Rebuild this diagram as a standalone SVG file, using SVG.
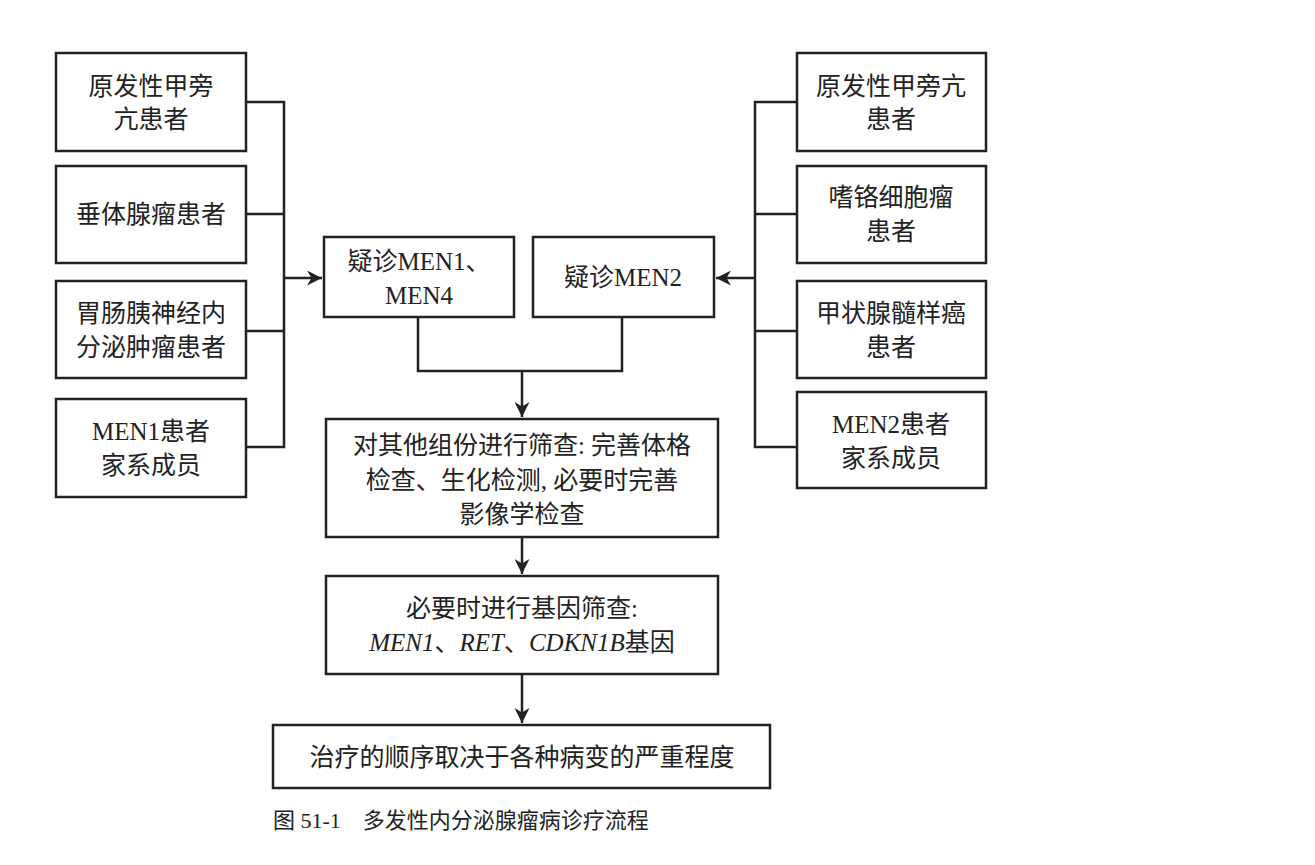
<svg xmlns="http://www.w3.org/2000/svg" width="1315" height="865" viewBox="0 0 1315 865">
<style>
rect{fill:#fff;stroke:#222;stroke-width:2.5}
text{font-family:"Liberation Serif","Noto Sans CJK SC",serif;font-size:25px;fill:#222;text-anchor:middle}
.c{fill:none;stroke:#222;stroke-width:2.5}
</style>
<defs><marker id="a" viewBox="0 0 10 10" refX="10" refY="5" markerWidth="6" markerHeight="6" orient="auto" markerUnits="strokeWidth"><path d="M0,0L10,5L0,10L3,5z" fill="#222"/></marker></defs>
<rect width="1315" height="865" style="fill:#fff;stroke:none"/>
<g id="connectors">
<path class="c" d="M246,102H284V447H246M246,214H284M246,331H284"/>
<path class="c" d="M284,278H322" marker-end="url(#a)"/>
<path class="c" d="M797,102H755V447H797M797,214H755M797,331H755"/>
<path class="c" d="M755,278H716" marker-end="url(#a)"/>
<path class="c" d="M418,317V371H622V317M522,371V417" marker-end="url(#a)"/>
<path class="c" d="M522,537V574" marker-end="url(#a)"/>
<path class="c" d="M522,674V723" marker-end="url(#a)"/>
</g>
<g id="l1"><rect x="56" y="53" width="190" height="98"/><text x="151" y="95">原发性甲旁</text><text x="151" y="128">亢患者</text></g>
<g id="l2"><rect x="56" y="166" width="190" height="97"/><text x="151" y="223">垂体腺瘤患者</text></g>
<g id="l3"><rect x="56" y="281" width="190" height="97"/><text x="151" y="322">胃肠胰神经内</text><text x="151" y="356">分泌肿瘤患者</text></g>
<g id="l4"><rect x="56" y="399" width="190" height="98"/><text x="151" y="440">MEN1患者</text><text x="151" y="474">家系成员</text></g>
<g id="r1"><rect x="797" y="53" width="189" height="98"/><text x="891" y="95">原发性甲旁亢</text><text x="891" y="128">患者</text></g>
<g id="r2"><rect x="797" y="166" width="189" height="97"/><text x="891" y="206">嗜铬细胞瘤</text><text x="891" y="240">患者</text></g>
<g id="r3"><rect x="797" y="281" width="189" height="97"/><text x="891" y="322">甲状腺髓样癌</text><text x="891" y="356">患者</text></g>
<g id="r4"><rect x="797" y="392" width="189" height="96"/><text x="891" y="433">MEN2患者</text><text x="891" y="467">家系成员</text></g>
<g id="m1"><rect x="324" y="237" width="190" height="80"/><text x="419" y="270">疑诊MEN1、</text><text x="419" y="304">MEN4</text></g>
<g id="m2"><rect x="533" y="237" width="181" height="80"/><text x="623" y="286">疑诊MEN2</text></g>
<g id="s1"><rect x="326" y="419" width="392" height="118"/><text x="522" y="454">对其他组份进行筛查: 完善体格</text><text x="522" y="489">检查、生化检测, 必要时完善</text><text x="522" y="523">影像学检查</text></g>
<g id="s2"><rect x="326" y="576" width="392" height="98"/><text x="522" y="617">必要时进行基因筛查:</text><text x="522" y="651"><tspan font-style="italic">MEN1</tspan>、<tspan font-style="italic">RET</tspan>、<tspan font-style="italic">CDKN1B</tspan>基因</text></g>
<g id="s3"><rect x="273" y="725" width="497" height="63"/><text x="522" y="766">治疗的顺序取决于各种病变的严重程度</text></g>
<text x="273" y="828" style="text-anchor:start;font-size:22px">图 51-1　多发性内分泌腺瘤病诊疗流程</text>
</svg>
